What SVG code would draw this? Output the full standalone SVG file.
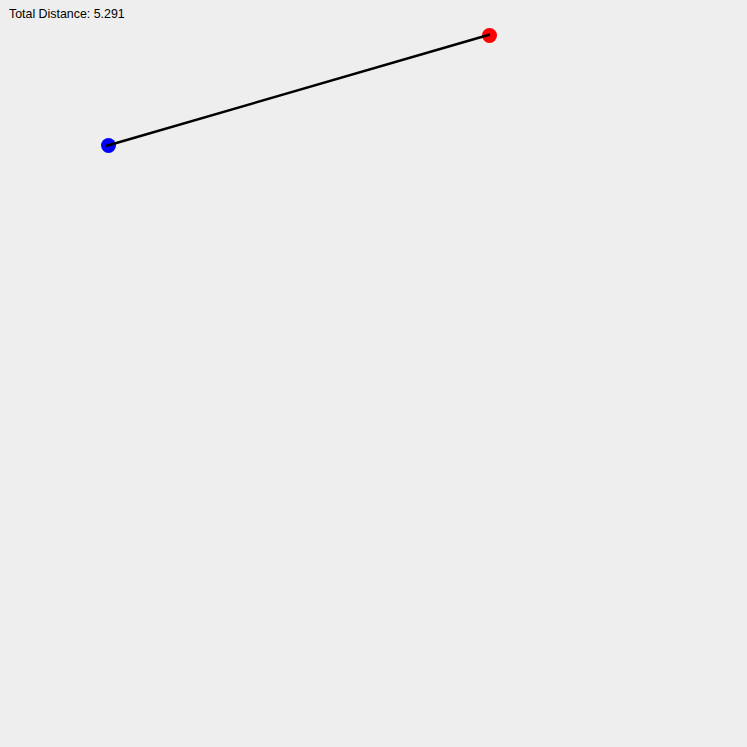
<svg xmlns="http://www.w3.org/2000/svg" width="747" height="747" viewBox="0 0 747 747">
<style>
.lbl{font-family:"Liberation Sans",Arial,sans-serif;font-size:12.4px;fill:#000}
.edge{stroke:#000;stroke-width:2.5;fill:none}
</style>
<rect x="0" y="0" width="747" height="747" fill="#EEEEEE"/>
<text class="lbl" x="9" y="18">Total Distance: 5.291</text>
<g id="start"><circle cx="108.5" cy="145.5" r="7.5" fill="#0000FF"/></g>
<g id="end"><circle cx="489.5" cy="35.5" r="7.5" fill="#FF0000"/></g>
<g id="connectors"><line class="edge" x1="106" y1="146" x2="490" y2="34.5"/></g>
</svg>
